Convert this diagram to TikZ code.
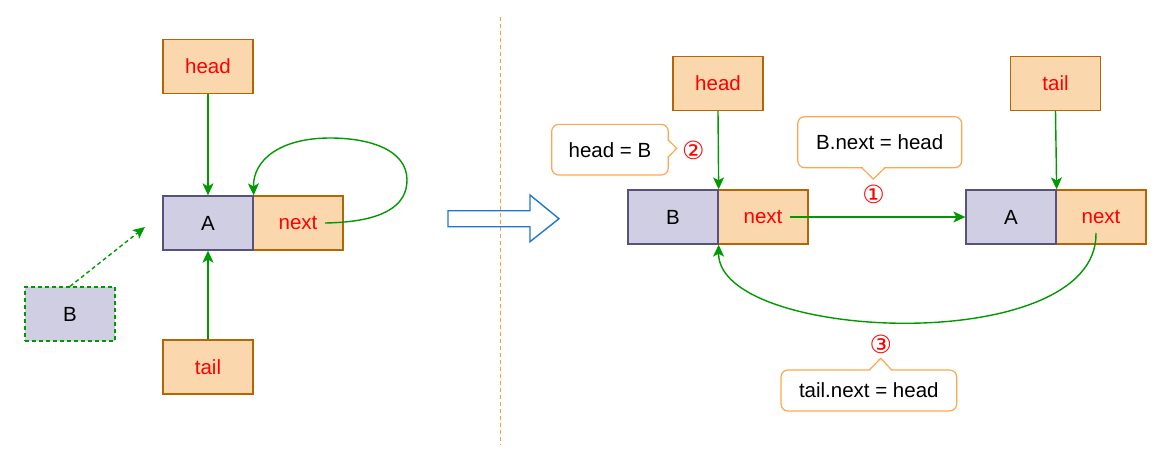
\documentclass[tikz,border=0pt]{standalone}
\usepackage{fontspec}
\setmainfont{Liberation Sans}
\newfontfamily\symfont{DejaVu Sans}
\usetikzlibrary{arrows.meta}
\definecolor{ofill}{HTML}{FAD7AC}
\definecolor{odraw}{HTML}{B46504}
\definecolor{pfill}{HTML}{D0CEE2}
\definecolor{pdraw}{HTML}{56517E}
\definecolor{gline}{HTML}{009900}
\definecolor{callo}{HTML}{FFA64D}
\definecolor{bluearr}{HTML}{1E76D2}
\definecolor{redtxt}{HTML}{FF0000}
\definecolor{divcol}{HTML}{FF9933}
\begin{document}
\begin{tikzpicture}[x=1pt,y=-1pt,
  ptrbox/.style={draw=odraw, fill=ofill, line width=1.3pt, minimum width=90pt, minimum height=54pt, inner sep=0pt, text=redtxt, font=\fontsize{20.5}{24}\selectfont},
  databox/.style={ptrbox, draw=pdraw, fill=pfill, text=black},
  ghostbox/.style={databox, draw=gline, dashed, dash pattern=on 4pt off 3pt},
  link/.style={draw=gline, line width=1.4pt, -{Stealth[length=12pt,width=11pt,inset=3pt]}},
  callbox/.style={draw=callo, fill=white, line width=1.2pt, rounded corners=7pt, inner sep=0pt, font=\fontsize{20.5}{24}\selectfont},
  callptr/.style={draw=callo, line width=1.2pt, line join=miter},
  stepnum/.style={text=redtxt, font=\symfont\fontsize{25}{28}\selectfont, inner sep=0pt}
]
\useasboundingbox (0,0) rectangle (1169,456);

% divider
\draw[divcol, line width=1.2pt, dash pattern=on 4pt off 3pt] (500.7,17) -- (500.7,445);

% block arrow
\draw[bluearr, line width=1.4pt, line join=miter] (448,210.7) -- (530,210.7) -- (530,195) -- (559,218.7) -- (530,241.7) -- (530,226.7) -- (448,226.7) -- cycle;

% ---------- left side ----------
\node[ptrbox] (lhead) at (208,66.5) {head};
\node[ptrbox] (lnext) at (298,223) {next};
\node[databox] (lA) at (208,223) {A};
\node[ptrbox] (ltail) at (208,367) {tail};
\node[ghostbox] (lB) at (70,314) {B};
\coordinate (lBend) at (145,227);

\draw[link] (lhead.south) -- (lA.north);
\draw[link] (ltail.north) -- (lA.south);
\draw[link, dash pattern=on 4pt off 3pt] (lB.north) -- (lBend);
\draw[link] ([xshift=27pt]lnext.center) .. controls (385,222) and (407,205) .. (407,180)
  .. controls (407,150) and (370,138) .. (330,138)
  .. controls (280,138) and (253,160) .. (lA.north east);

% ---------- right side ----------
\node[ptrbox] (rhead) at (718,83.5) {head};
\node[ptrbox] (rtail) at (1055.5,83.5) {tail};
\node[ptrbox] (rBnext) at (763,217) {next};
\node[databox] (rB) at (673,217) {B};
\node[ptrbox] (rAnext) at (1101,217) {next};
\node[databox] (rA) at (1011,217) {A};

\draw[link] (rhead.south) -- (rB.north east);
\draw[link] (rtail.south) -- (rA.north east);
\draw[link] ([xshift=27pt]rBnext.center) -- (rA.west);
\draw[link] ([xshift=-5pt,yshift=-16pt]rAnext.center) .. controls (1098,358) and (718,342) .. (rB.south east);

% callout 1: B.next = head
\node[callbox, minimum width=164pt, minimum height=51pt] (c1) at (879.7,142.2) {B.next = head};
\fill[white] (862.8,166.2) rectangle (883.9,169.2);
\draw[callptr] (861.7,167.7) -- (873.3,179) -- (885,167.7);
\node[stepnum] (n1) at (873.5,194) {①};

% callout 2: head = B
\node[callbox, minimum width=116.6pt, minimum height=50.7pt] (c2) at (610,149.7) {head = B};
\fill[white] (666.8,141) rectangle (669.8,156);
\draw[callptr] (668.3,140) -- (676.7,148.3) -- (668.3,157);
\node[stepnum] (n2) at (693.3,150) {②};

% callout 3: tail.next = head
\node[callbox, minimum width=175.7pt, minimum height=41pt] (c3) at (868.8,390.5) {tail.next = head};
\fill[white] (870.3,368.5) rectangle (890.7,371.5);
\draw[callptr] (869.3,370) -- (880.7,358.3) -- (891.7,370);
\node[stepnum] (n3) at (880.7,344) {③};
\end{tikzpicture}
\end{document}
